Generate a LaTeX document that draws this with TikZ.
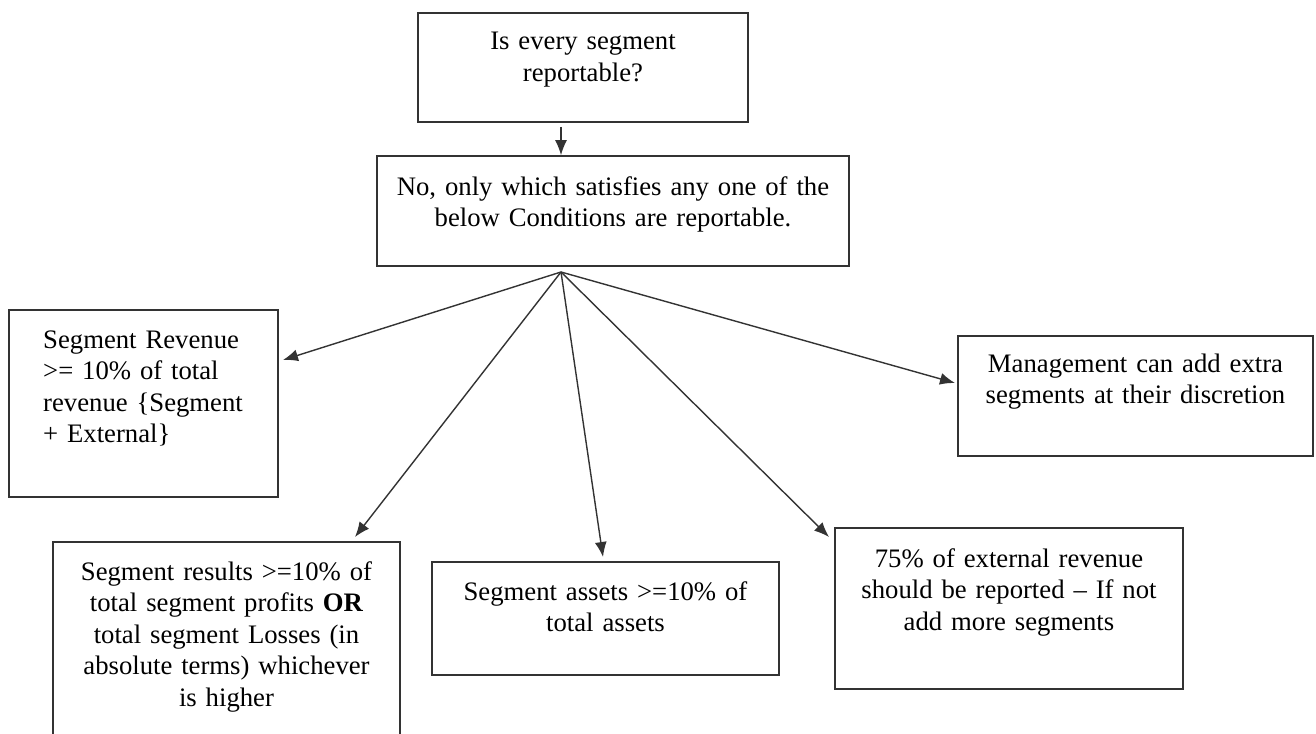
\documentclass[tikz,border=0pt]{standalone}
\usepackage{fontspec}
\setmainfont{Liberation Serif}
\usetikzlibrary{arrows.meta}

\begin{document}
\begin{tikzpicture}[x=1pt,y=-1pt,
  box/.style={draw=black!80, line width=1.6pt, rectangle, inner sep=0pt},
  lbl/.style={font=\fontsize{26.7}{31.5}\selectfont, inner sep=0pt, align=center, anchor=base},
  link/.style={draw=black!80, line width=1.4pt, -{Latex[length=15pt,width=12pt]}}
]
\useasboundingbox (0,0) rectangle (1316,733);
\fill[white] (0,0) rectangle (1316,733);
\clip (0,0) rectangle (1316,733);

% question and answer
\node[box, minimum width=330pt, minimum height=109pt] (q) at (583,67.5) {};
\node[lbl, text width=320pt] (qt) at (583,50) {Is every segment\\reportable?};

\node[box, minimum width=472pt, minimum height=110pt] (ans) at (613,211) {};
\node[lbl, text width=462pt] (anst) at (613,195) {No, only which satisfies any one of the\\below Conditions are reportable.};

% conditions
\node[box, minimum width=269pt, minimum height=187pt] (rev) at (143.5,403.5) {};
\node[lbl, text width=230pt, align=left, anchor=base west] (revt) at (43,348)
  {Segment Revenue\\>= 10\% of total\\revenue \{Segment\\+ External\}};

\node[box, minimum width=347pt, minimum height=208pt] (res) at (226.5,646) {};
\node[lbl, text width=337pt] (rest) at (226.5,580)
  {Segment results >=10\% of\\total segment profits \textbf{OR}\\total segment Losses (in\\absolute terms) whichever\\is higher};

\node[box, minimum width=347pt, minimum height=113pt] (ast) at (605.5,618.5) {};
\node[lbl, text width=337pt] (astt) at (605.5,600) {Segment assets >=10\% of\\total assets};

\node[box, minimum width=348pt, minimum height=161pt] (ext) at (1009,608.5) {};
\node[lbl, text width=338pt] (extt) at (1009,567)
  {75\% of external revenue\\should be reported – If not\\add more segments};

\node[box, minimum width=355pt, minimum height=120pt] (mgt) at (1135.5,396) {};
\node[lbl, text width=345pt] (mgtt) at (1135.5,372)
  {Management can add extra\\segments at their discretion};

% connectors
\coordinate (fan) at (561,272);
\coordinate (to-rev) at (283,360);
\coordinate (to-res) at (355,537);
\coordinate (to-ast) at (603,557);
\coordinate (to-ext) at (829,537);
\coordinate (to-mgt) at (955,383);

\draw[link, shorten <=4pt] (q.south -| fan) -- (ans.north -| fan);
\draw[link] (fan) -- (to-rev);
\draw[link] (fan) -- (to-res);
\draw[link] (fan) -- (to-ast);
\draw[link] (fan) -- (to-ext);
\draw[link] (fan) -- (to-mgt);
\end{tikzpicture}
\end{document}
